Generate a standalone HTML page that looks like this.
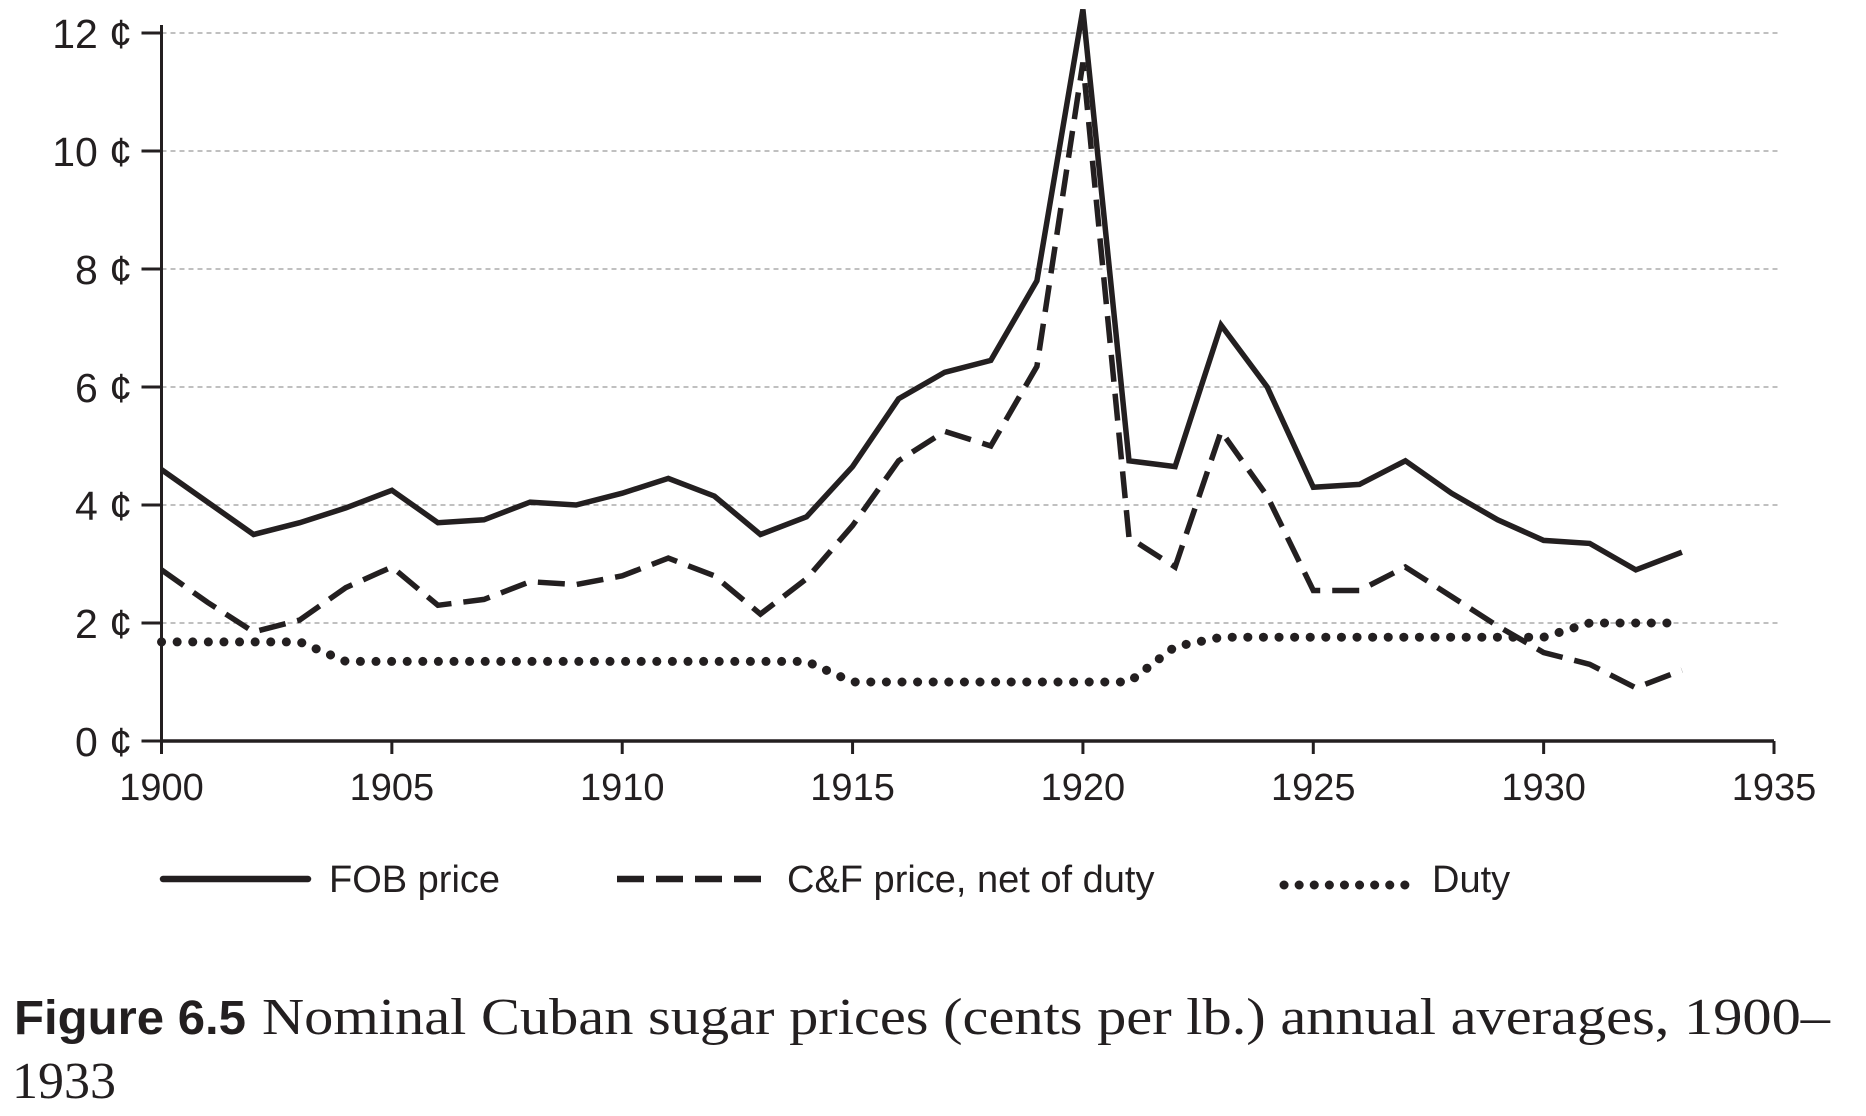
<!DOCTYPE html>
<html><head><meta charset="utf-8"><style>
html,body{margin:0;padding:0;background:#fff;}
svg{display:block;}
</style></head><body>
<svg id="chart" width="1866" height="1116" viewBox="0 0 1866 1116" xmlns="http://www.w3.org/2000/svg">
<g id="grid"></g>
<g id="axes"></g>
<g id="series"></g>
<g id="legend">
  <line x1="163" y1="879" x2="308" y2="879" stroke="#231f20" stroke-width="6.5" stroke-linecap="round"/>
  <text x="329" y="892" font-family="Liberation Sans, sans-serif" font-size="38" fill="#231f20">FOB price</text>
  <line x1="617" y1="879" x2="762" y2="879" stroke="#231f20" stroke-width="6.5" stroke-dasharray="27 12"/>
  <text x="787" y="892" font-family="Liberation Sans, sans-serif" font-size="38" fill="#231f20">C&amp;F price, net of duty</text>
  <line x1="1284" y1="885" x2="1405" y2="885" stroke="#231f20" stroke-width="9" stroke-dasharray="0.1 15" stroke-linecap="round"/>
  <text x="1432" y="892" font-family="Liberation Sans, sans-serif" font-size="38" fill="#231f20">Duty</text>
</g>
<g>
  <text x="14" y="1034" font-family="Liberation Sans Narrow, Liberation Sans, sans-serif" font-weight="bold" font-size="48" fill="#231f20" textLength="232" lengthAdjust="spacingAndGlyphs">Figure 6.5</text>
  <text x="262" y="1034" font-family="Liberation Serif, serif" font-size="52" fill="#231f20" textLength="1568" lengthAdjust="spacingAndGlyphs">Nominal Cuban sugar prices (cents per lb.) annual averages, 1900–</text>
  <text x="12" y="1098" font-family="Liberation Serif, serif" font-size="52" fill="#231f20">1933</text>
</g>
</svg>
<script>
const years = [1900,1901,1902,1903,1904,1905,1906,1907,1908,1909,1910,1911,1912,1913,1914,1915,1916,1917,1918,1919,1920,1921,1922,1923,1924,1925,1926,1927,1928,1929,1930,1931,1932,1933];
const fobPrice = [4.6,4.05,3.5,3.7,3.95,4.25,3.7,3.75,4.05,4.0,4.2,4.45,4.15,3.5,3.8,4.65,5.8,6.25,6.45,7.8,12.4,4.75,4.65,7.05,6.0,4.3,4.35,4.75,4.2,3.75,3.4,3.35,2.9,3.2];
const cfPrice = [2.9,2.35,1.85,2.05,2.6,2.95,2.3,2.4,2.7,2.65,2.8,3.1,2.8,2.15,2.75,3.65,4.75,5.25,5.0,6.35,11.5,3.45,2.95,5.25,4.15,2.55,2.55,2.95,2.45,1.95,1.5,1.3,0.9,1.2];
const duty = [1.68,1.68,1.68,1.68,1.35,1.35,1.35,1.35,1.35,1.35,1.35,1.35,1.35,1.35,1.35,1.0,1.0,1.0,1.0,1.0,1.0,1.0,1.6,1.76,1.76,1.76,1.76,1.76,1.76,1.76,1.76,2.0,2.0,2.0];
const yTicks = [0,2,4,6,8,10,12];
const xTicks = [1900,1905,1910,1915,1920,1925,1930,1935];

const NS = 'http://www.w3.org/2000/svg';
const X0 = 161.5, X1 = 1774, Y0 = 741, Y12 = 33;
function xs(v){ return X0 + (v-1900)/35*(X1-X0); }
function ys(v){ return Y0 - v/12*(Y0-Y12); }
function mk(tag, attrs, parent){ const e=document.createElementNS(NS,tag); for(const k in attrs) e.setAttribute(k,attrs[k]); parent.appendChild(e); return e; }
const grid=document.getElementById('grid'), axes=document.getElementById('axes'), ser=document.getElementById('series');

yTicks.forEach(t=>{
  const y=ys(t);
  if(t>0){
    const g=mk('line',{x1:X0,y1:y,x2:1778,y2:y,stroke:'#9a9a9a','stroke-width':1.3,'stroke-dasharray':'5 4'},grid);
    
    
  }
  const tk=mk('line',{x1:X0-20,y1:y,x2:X0,y2:y,stroke:'#231f20','stroke-width':3},axes);
  
  
  const lb=mk('text',{x:132,y:y+15,'text-anchor':'end','font-family':'Liberation Sans, sans-serif','font-size':41,fill:'#231f20'},axes);
  lb.textContent=t+' ¢';
  
  
});
xTicks.forEach(t=>{
  const x=xs(t);
  const tk=mk('line',{x1:x,y1:Y0,x2:x,y2:Y0+13,stroke:'#231f20','stroke-width':3},axes);
  
  
  const lb=mk('text',{x:x,y:800,'text-anchor':'middle','font-family':'Liberation Sans, sans-serif','font-size':38,fill:'#231f20'},axes);
  lb.textContent=t;
  
  
});
const ya=mk('line',{x1:X0,y1:ys(12)-8,x2:X0,y2:Y0+1.5,stroke:'#231f20','stroke-width':3},axes);


const xa=mk('line',{x1:X0,y1:Y0,x2:X1,y2:Y0,stroke:'#231f20','stroke-width':3.5},axes);



function pts(arr){ return arr.map((v,i)=>xs(years[i]).toFixed(1)+','+ys(v).toFixed(1)).join(' '); }
const d=mk('polyline',{points:pts(duty),fill:'none',stroke:'#231f20','stroke-width':9,'stroke-dasharray':'0.1 15.5','stroke-linecap':'round'},ser);


const c=mk('polyline',{points:pts(cfPrice),fill:'none',stroke:'#231f20','stroke-width':5.5,'stroke-dasharray':'27 12','stroke-linejoin':'miter'},ser);


const f=mk('polyline',{points:pts(fobPrice),fill:'none',stroke:'#231f20','stroke-width':5.5,'stroke-linejoin':'miter'},ser);


</script>
</body></html>
